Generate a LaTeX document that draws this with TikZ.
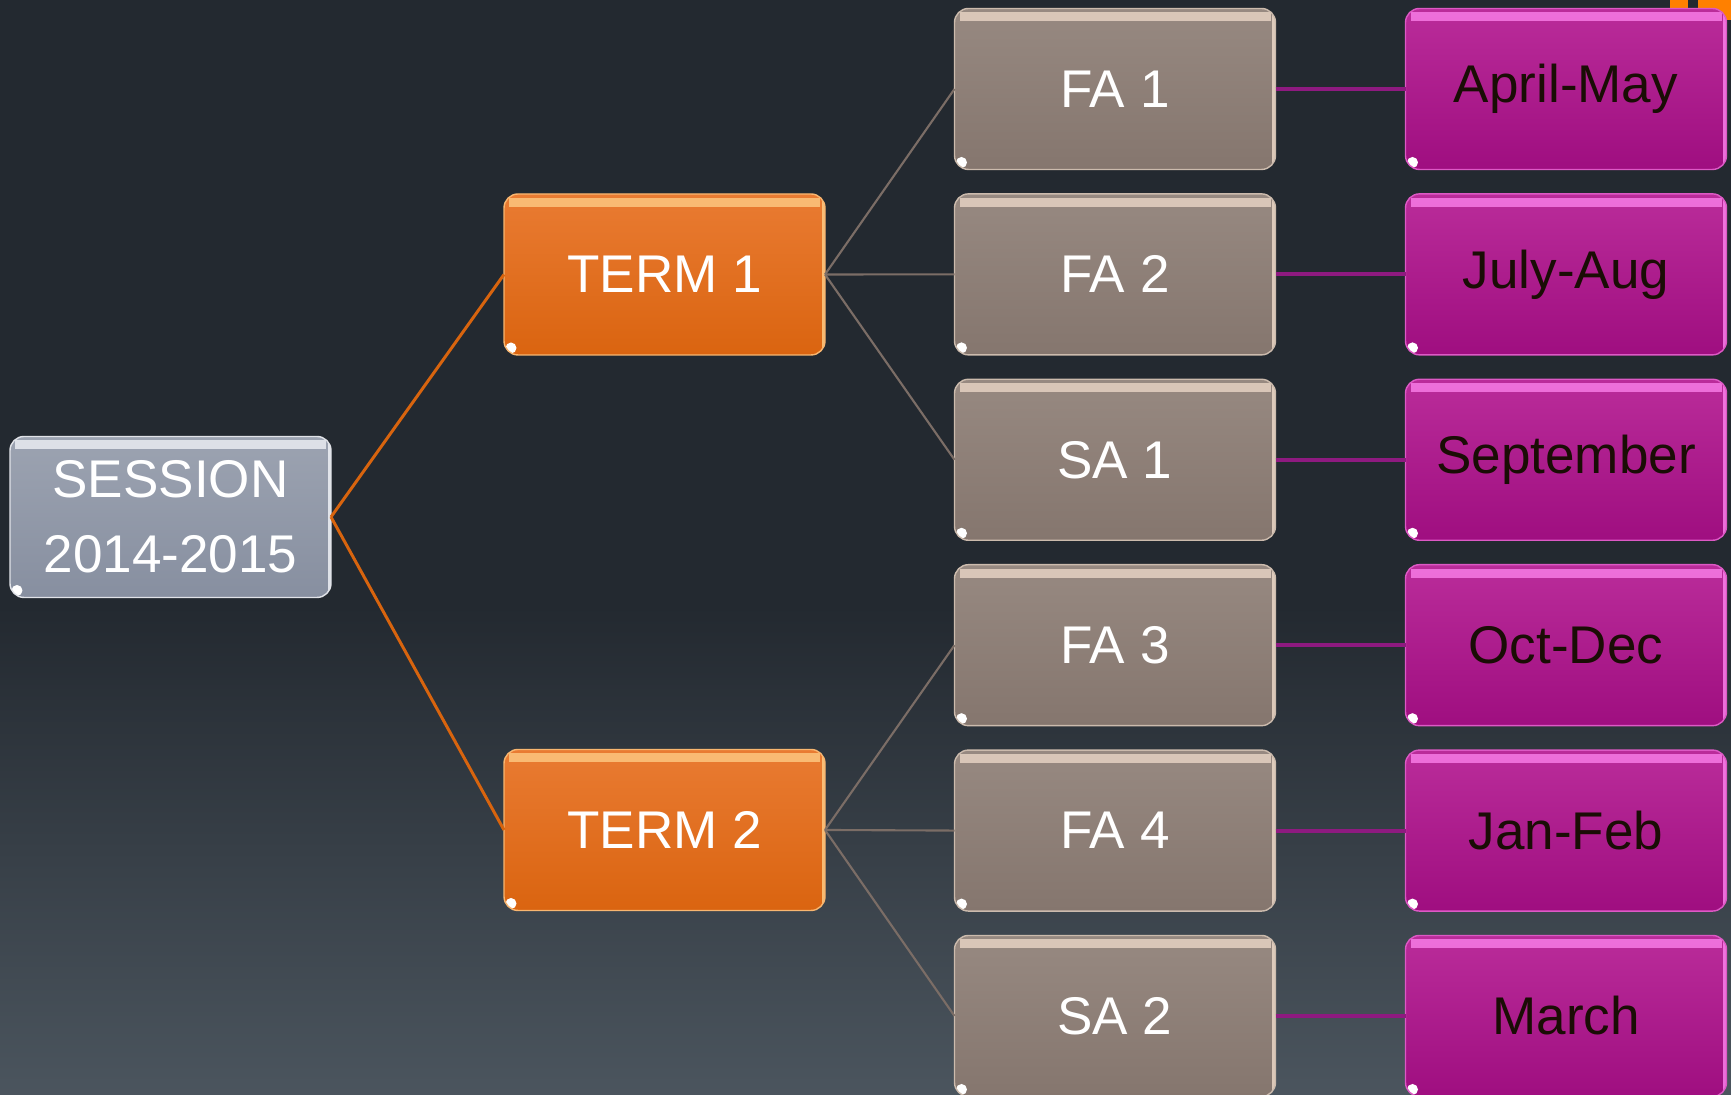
\documentclass[tikz,border=0pt]{standalone}
\usepackage{fontspec}
\setmainfont{Liberation Sans}
\usepackage{xcolor}
\usepackage{tikz}
\usetikzlibrary{shapes,arrows,positioning}

\definecolor{bgtop}{HTML}{232930}
\definecolor{bgbot}{HTML}{4B555E}
\definecolor{sesstop}{HTML}{9CA3B1}
\definecolor{sessbot}{HTML}{878FA0}
\definecolor{sesshi}{HTML}{F4F6FA}
\definecolor{termtop}{HTML}{E97B32}
\definecolor{termbot}{HTML}{DA6410}
\definecolor{termhi}{HTML}{FFD08A}
\definecolor{fatop}{HTML}{978981}
\definecolor{fabot}{HTML}{85766E}
\definecolor{fahi}{HTML}{F0DCCB}
\definecolor{montop}{HTML}{BA2C9A}
\definecolor{monbot}{HTML}{9F0E80}
\definecolor{monhi}{HTML}{FF86F0}
\definecolor{sessline}{HTML}{D8640E}
\definecolor{faline}{HTML}{7B6D66}
\definecolor{monline}{HTML}{8E1A80}
\definecolor{montext}{HTML}{1A0D05}

\tikzset{
    gbox/.style={
        rectangle,
        rounded corners=0.14cm,
        minimum width=3.21cm,
        minimum height=1.61cm,
        inner sep=0pt,
        outer sep=0pt,
        align=center,
        font=\fontsize{15.1}{21.3}\selectfont
    },
    glossy/.style={
        path picture={
            \fill[sharp corners,#1,opacity=0.75]
                ([xshift=0.05cm,yshift=-0.04cm]path picture bounding box.north west)
                rectangle ([xshift=-0.05cm,yshift=-0.13cm]path picture bounding box.north east);
            \fill[sharp corners,#1,opacity=0.8]
                ([xshift=-0.035cm]path picture bounding box.north east)
                rectangle (path picture bounding box.south east);
            \fill[white]
                ([xshift=0.07cm,yshift=0.07cm]path picture bounding box.south west) circle (0.055cm);
        }
    },
    sessbox/.style={
        gbox,
        top color=sesstop,
        bottom color=sessbot,
        draw=white!70!sesstop,
        line width=0.4pt,
        text=white,
        glossy=sesshi
    },
    termbox/.style={
        gbox,
        top color=termtop,
        bottom color=termbot,
        draw=termhi!70!termtop,
        line width=0.4pt,
        text=white,
        glossy=termhi
    },
    fabox/.style={
        gbox,
        top color=fatop,
        bottom color=fabot,
        draw=fahi!60!fatop,
        line width=0.4pt,
        text=white,
        glossy=fahi
    },
    monbox/.style={
        gbox,
        top color=montop,
        bottom color=monbot,
        draw=monhi!50!montop,
        line width=0.4pt,
        text=montext,
        glossy=monhi
    },
    toterm/.style={draw=sessline, line width=0.85pt},
    tofa/.style={draw=faline, line width=0.6pt},
    tomonth/.style={draw=monline, line width=1.1pt}
}

\begin{document}
\begin{tikzpicture}
    \useasboundingbox (0,0) rectangle (17.31,10.95);

    \fill[bgtop] (0,0) rectangle (17.31,10.95);
    \shade[
        top color=bgtop,
        bottom color=bgbot
        ] (0,0) rectangle (17.31,4.9);

    % bit of an orange shape cut off at the top edge
    \fill[orange] (16.70,10.87) rectangle (16.88,10.95);
    \fill[orange] (16.98,10.75) rectangle (17.31,10.95);

    % session and terms
    \node[sessbox] (session) at (1.705,5.78) {SESSION\\2014-2015};
    \node[termbox] (term1) at (6.645,8.205) {TERM 1};
    \node[termbox] (term2) at (6.645,2.65) {TERM 2};

    % assessments
    \node[fabox] (fa1) at (11.15,10.06) {FA 1};
    \node[fabox] (fa2) at (11.15,8.206) {FA 2};
    \node[fabox] (sa1) at (11.15,6.352) {SA 1};
    \node[fabox] (fa3) at (11.15,4.498) {FA 3};
    \node[fabox] (fa4) at (11.15,2.644) {FA 4};
    \node[fabox] (sa2) at (11.15,0.79) {SA 2};

    % months
    \node[monbox] (aprmay) at (15.66,10.06) {April-May};
    \node[monbox] (julaug) at (15.66,8.206) {July-Aug};
    \node[monbox] (sept) at (15.66,6.352) {September};
    \node[monbox] (octdec) at (15.66,4.498) {Oct-Dec};
    \node[monbox] (janfeb) at (15.66,2.644) {Jan-Feb};
    \node[monbox] (march) at (15.66,0.79) {March};

    \draw[toterm] (session.east) -- (term1.west);
    \draw[toterm] (session.east) -- (term2.west);

    \draw[tofa] (term1.east) -- (fa1.west);
    \draw[tofa] (term1.east) -- (fa2.west);
    \draw[tofa] (term1.east) -- (sa1.west);
    \draw[tofa] (term2.east) -- (fa3.west);
    \draw[tofa] (term2.east) -- (fa4.west);
    \draw[tofa] (term2.east) -- (sa2.west);

    \draw[tomonth] (fa1.east) -- (aprmay.west);
    \draw[tomonth] (fa2.east) -- (julaug.west);
    \draw[tomonth] (sa1.east) -- (sept.west);
    \draw[tomonth] (fa3.east) -- (octdec.west);
    \draw[tomonth] (fa4.east) -- (janfeb.west);
    \draw[tomonth] (sa2.east) -- (march.west);
\end{tikzpicture}
\end{document}
